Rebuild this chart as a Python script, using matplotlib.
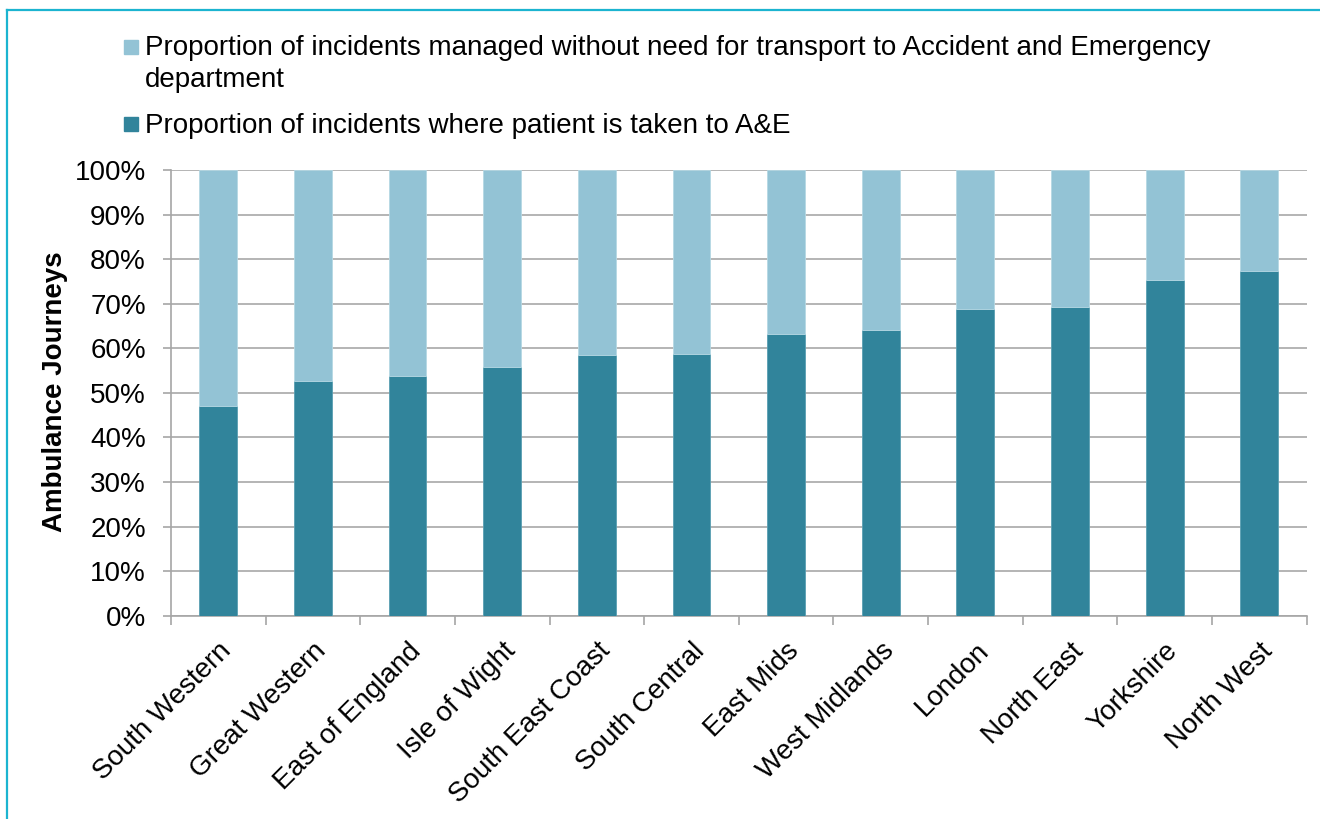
import matplotlib.pyplot as plt
import numpy as np
from matplotlib.lines import Line2D
from matplotlib.patches import Rectangle
from matplotlib.ticker import FuncFormatter, MultipleLocator

plt.rcParams["font.family"] = ["Liberation Sans", "DejaVu Sans"]

regions = [
    "South Western", "Great Western", "East of England", "Isle of Wight",
    "South East Coast", "South Central", "East Mids", "West Midlands",
    "London", "North East", "Yorkshire", "North West",
]
# share of incidents where the patient is taken to A&E (%)
taken_to_ae = [47.1, 52.6, 53.7, 55.7, 58.5, 58.7, 63.3, 64.0, 68.8, 69.3, 75.3, 77.4]
managed_without = [100 - v for v in taken_to_ae]

label_managed = "Proportion of incidents managed without need for transport to Accident and Emergency\ndepartment"
label_taken = "Proportion of incidents where patient is taken to A&E"

dark = "#31849B"
light = "#93C3D5"
grid_grey = "#B4B4B4"
axis_grey = "#A6A6A6"
fs = 20

fig = plt.figure(figsize=(13.2, 8.19), dpi=100)
ax = fig.add_axes([0.1295, 0.2482, 0.8604, 0.5442])

x = np.arange(len(regions))
ax.bar(x, taken_to_ae, width=0.4, color=dark, edgecolor="#5A9FB2", linewidth=0.6, zorder=3)
ax.bar(x, managed_without, width=0.4, bottom=taken_to_ae, color=light,
       edgecolor="#B5D8E4", linewidth=0.6, zorder=3)

ax.set_xlim(-0.5, len(regions) - 0.5)
ax.set_ylim(0, 100)
ax.yaxis.set_major_locator(MultipleLocator(10))
ax.yaxis.set_major_formatter(FuncFormatter(lambda v, _: f"{v:.0f}%"))
ax.grid(axis="y", color=grid_grey, linewidth=1.4, zorder=0)

ax.set_xticks(x)
ax.set_xticklabels(regions, rotation=45, ha="right", va="top", rotation_mode="anchor")
ax.set_xticks(np.arange(len(regions) + 1) - 0.5, minor=True)
ax.tick_params(axis="x", which="major", length=0, pad=16, labelsize=fs)
ax.tick_params(axis="x", which="minor", length=6.5, width=1.2, color=axis_grey)
ax.tick_params(axis="y", length=6, width=1.2, color=axis_grey, pad=12, labelsize=fs)

for side in ["top", "right"]:
    ax.spines[side].set_visible(False)
for side in ["left", "bottom"]:
    ax.spines[side].set_color(axis_grey)
    ax.spines[side].set_linewidth(1.2)

fig.text(0.042, 0.5214, "Ambulance Journeys", rotation=90, ha="center", va="center",
         fontsize=fs, fontweight="bold")

# legend drawn by hand so the squares sit on the first text line
# (va="baseline" anchors the last line of a multi-line label)
W, H = 1320, 819
for (sq_top, baseline, color, label) in [(40, 87, light, label_managed), (117, 133, dark, label_taken)]:
    fig.add_artist(Rectangle((124 / W, 1 - (sq_top + 14) / H), 14 / W, 14 / H,
                             transform=fig.transFigure, color=color))
    fig.text(145 / W, 1 - baseline / H, label, ha="left", va="baseline", fontsize=fs,
             linespacing=1.28)

# frame lines of the surrounding box
fig.add_artist(Line2D([7 / W, 1], [1 - 10 / H, 1 - 10 / H], transform=fig.transFigure,
                      color="#1CB4D0", linewidth=1.6))
fig.add_artist(Line2D([7 / W, 7 / W], [0, 1 - 10 / H], transform=fig.transFigure,
                      color="#1CB4D0", linewidth=1.6))

fig.savefig("out.png", dpi=100)
